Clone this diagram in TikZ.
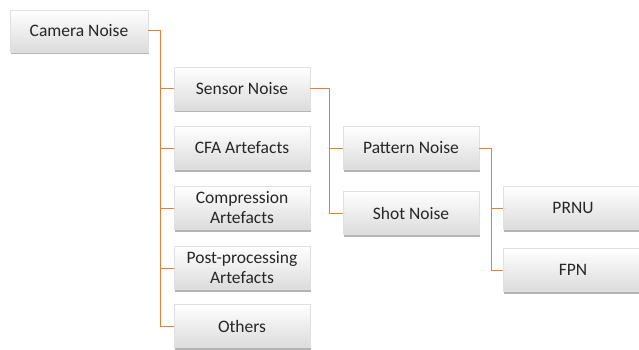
\documentclass[tikz,border=0pt]{standalone}
\usepackage{fontspec}
\setmainfont{Carlito}
\usetikzlibrary{shadows}
\definecolor{linkorange}{HTML}{ED7D31}
\tikzset{
  box/.style={draw=black!12, top color=white, bottom color=black!14,
    drop shadow={shadow xshift=1pt, shadow yshift=-2pt, opacity=0.6},
    minimum width=136pt, minimum height=43pt, inner sep=0pt, align=center,
    text=black!85, font=\fontsize{17.5}{20}\selectfont},
  link/.style={draw=linkorange, line width=1pt}
}
\begin{document}
\begin{tikzpicture}[x=1pt,y=-1pt]
\useasboundingbox (0,0) rectangle (639,350);

% root
\node[box, minimum width=138pt, minimum height=42pt] (camera) at (79,31) {Camera Noise};

% first level
\node[box] (sensor) at (242,89) {Sensor Noise};
\node[box] (cfa) at (242,148) {CFA Artefacts};
\node[box] (compression) at (242,208) {Compression\\Artefacts};
\node[box] (postproc) at (242,268) {Post-processing\\Artefacts};
\node[box] (others) at (242,326) {Others};

% second level
\node[box] (pattern) at (411,148) {Pattern Noise};
\node[box] (shot) at (411,213) {Shot Noise};

% third level
\node[box, minimum width=140pt] (prnu) at (573,208) {PRNU};
\node[box, minimum width=140pt] (fpn) at (573,270) {FPN};

\coordinate (trunka) at (160,31);
\coordinate (trunkb) at (329,89);
\coordinate (trunkc) at (491,148);

\draw[link] (camera.east) -- (trunka) |- (others.west);
\foreach \n in {sensor,cfa,compression,postproc}
  \draw[link] (trunka |- \n.west) -- (\n.west);

\draw[link] (sensor.east) -- (trunkb) |- (shot.west);
\draw[link] (trunkb |- pattern.west) -- (pattern.west);

\draw[link] (pattern.east) -- (trunkc) |- (fpn.west);
\draw[link] (trunkc |- prnu.west) -- (prnu.west);

\end{tikzpicture}
\end{document}
